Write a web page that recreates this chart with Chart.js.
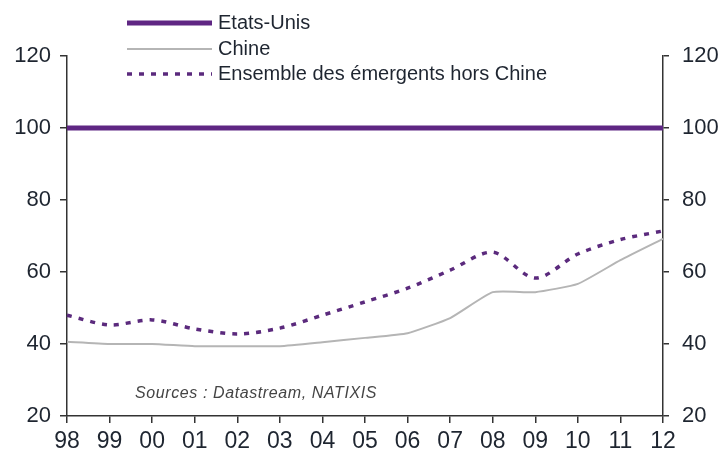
<!DOCTYPE html>
<html>
<head>
<meta charset="utf-8">
<script src="https://cdn.jsdelivr.net/npm/chart.js@4.4.1/dist/chart.umd.min.js"></script>
<style>
  html, body { margin: 0; padding: 0; background: #fff; }
  #wrap { width: 721px; height: 457px; position: relative; }
</style>
</head>
<body>
<div id="wrap"><canvas id="canvas"></canvas></div>
<script>
// years on the x axis
var years = ['98', '99', '00', '01', '02', '03', '04', '05', '06', '07', '08', '09', '10', '11', '12'];

// index, Etats-Unis = 100
var etatsUnis = [100, 100, 100, 100, 100, 100, 100, 100, 100, 100, 100, 100, 100, 100, 100];
var chine = [40.6, 40.0, 40.0, 39.4, 39.4, 39.4, 40.5, 41.7, 43.0, 47.2, 54.4, 54.4, 56.7, 63.3, 69.2];
var emergents = [48.0, 45.3, 46.7, 44.2, 42.8, 44.4, 48.0, 51.7, 55.5, 60.5, 65.5, 58.3, 65.0, 69.0, 71.4];

var yTicks = [20, 40, 60, 80, 100, 120];
var sourceText = 'Sources : Datastream, NATIXIS';

var axisColor = '#333';
var textColor = '#1e2530';
var fontFamily = '"Liberation Sans", Arial, sans-serif';

// legend drawn as line samples + text, top left
const lineLegend = {
    id: 'lineLegend',
    afterDraw(chart) {
        const ctx = chart.ctx;
        const x0 = 127, x1 = 212, tx = 218;
        const rows = [23, 49, 74];
        ctx.save();
        chart.data.datasets.forEach((ds, i) => {
            const y = rows[i];
            ctx.beginPath();
            ctx.strokeStyle = ds.borderColor;
            ctx.lineWidth = ds.borderWidth;
            ctx.setLineDash(ds.borderDash || []);
            ctx.lineCap = 'butt';
            ctx.moveTo(x0, y);
            ctx.lineTo(x1, y);
            ctx.stroke();
            ctx.setLineDash([]);
            ctx.fillStyle = textColor;
            ctx.font = '20px ' + fontFamily;
            ctx.textBaseline = 'middle';
            ctx.textAlign = 'left';
            ctx.fillText(ds.label, tx, y);
        });
        // source note
        ctx.font = 'italic 16px ' + fontFamily;
        ctx.letterSpacing = '0.6px';
        ctx.fillStyle = '#444';
        ctx.fillText(sourceText, 135, 394);
        ctx.restore();
    }
};

function yAxis(position, width, tickLen, pad) {
    return {
        type: 'linear',
        position: position,
        min: 20,
        max: 120,
        afterBuildTicks: (scale) => { scale.ticks = yTicks.map(v => ({ value: v })); },
        afterFit: (scale) => { scale.width = width; },
        grid: { drawOnChartArea: false, drawTicks: true, tickLength: tickLen, color: axisColor, lineWidth: 1.5 },
        border: { display: true, color: axisColor, width: 1.5 },
        ticks: {
            color: textColor,
            padding: pad,
            font: { family: fontFamily, size: 22 }
        }
    };
}

var ctx = document.getElementById('canvas').getContext('2d');
var chart = new Chart(ctx, {
    type: 'line',
    data: {
        labels: years,
        datasets: [{
            label: 'Etats-Unis',
            data: etatsUnis,
            borderColor: '#5f2683',
            borderWidth: 5,
            pointRadius: 0,
            yAxisID: 'y'
        }, {
            label: 'Chine',
            data: chine,
            borderColor: '#b5b5b5',
            borderWidth: 2,
            pointRadius: 0,
            tension: 0.15,
            yAxisID: 'y'
        }, {
            label: 'Ensemble des émergents hors Chine',
            data: emergents,
            borderColor: '#5b2a7d',
            borderWidth: 3.5,
            borderDash: [5, 7],
            borderCapStyle: 'butt',
            pointRadius: 0,
            tension: 0.3,
            yAxisID: 'y'
        }]
    },
    options: {
        responsive: true,
        maintainAspectRatio: false,
        animation: false,
        layout: { padding: { top: 56, left: 0, right: 0, bottom: 0 } },
        plugins: {
            legend: { display: false },
            tooltip: { enabled: false }
        },
        scales: {
            x: {
                offset: false,
                afterFit: (scale) => { scale.height = 41; },
                grid: { drawOnChartArea: false, drawTicks: true, tickLength: 7, color: axisColor, lineWidth: 1.5 },
                border: { display: true, color: axisColor, width: 1.5 },
                ticks: {
                    color: textColor,
                    padding: 5,
                    maxRotation: 0,
                    autoSkip: false,
                    font: { family: fontFamily, size: 23 }
                }
            },
            y: yAxis('left', 67, 7, 9),
            y2: yAxis('right', 58, 6, 13)
        }
    },
    plugins: [lineLegend]
});
</script>
</body>
</html>
